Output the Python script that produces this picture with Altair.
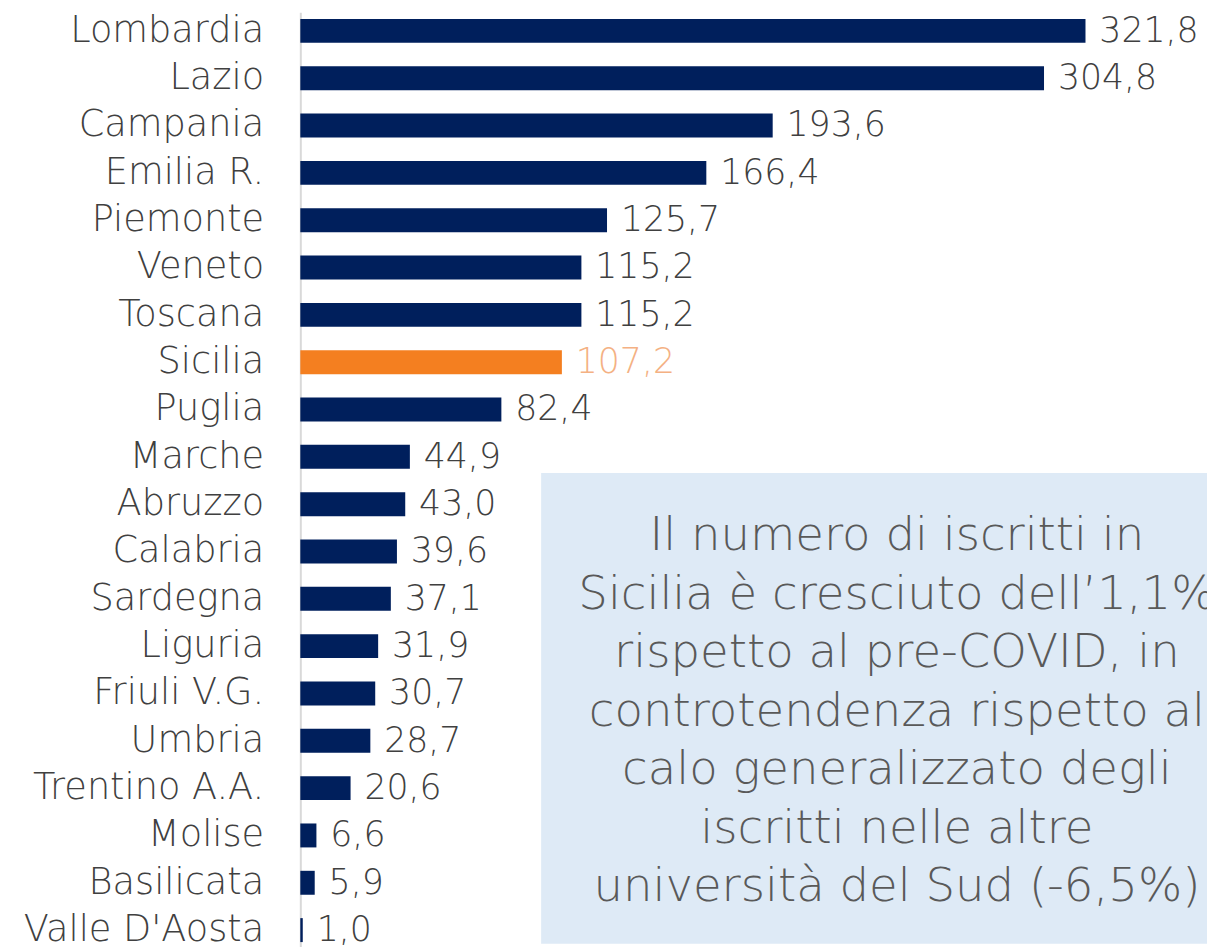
import altair as alt
import pandas as pd

regions = ["Lombardia", "Lazio", "Campania", "Emilia R.", "Piemonte", "Veneto",
           "Toscana", "Sicilia", "Puglia", "Marche", "Abruzzo", "Calabria",
           "Sardegna", "Liguria", "Friuli V.G.", "Umbria", "Trentino A.A.",
           "Molise", "Basilicata", "Valle D'Aosta"]
values = [321.8, 304.8, 193.6, 166.4, 125.7, 115.2, 115.2, 107.2, 82.4, 44.9,
          43.0, 39.6, 37.1, 31.9, 30.7, 28.7, 20.6, 6.6, 5.9, 1.0]
highlight = "Sicilia"
note_lines = ["Il numero di iscritti in",
              "Sicilia è cresciuto dell’1,1%",
              "rispetto al pre-COVID, in",
              "controtendenza rispetto al",
              "calo generalizzato degli",
              "iscritti nelle altre",
              "università del Sud (-6,5%)"]

df = pd.DataFrame({"regione": regions, "valore": values})
df["label"] = [f"{v:.1f}".replace(".", ",") for v in values]
df["hl"] = ["si" if r == highlight else "no" for r in regions]

FONT = "DejaVu Sans"
W, H = 915, 945
xscale = alt.Scale(domain=[0, 371.6], nice=False, zero=True)

y_enc = alt.Y("regione:N", sort=regions,
              scale=alt.Scale(paddingInner=0.494, paddingOuter=0.14),
              axis=alt.Axis(title=None, ticks=False, domainColor="#d9d9d9",
                            domainWidth=2, labelFont=FONT, labelFontSize=37,
                            labelFontWeight=200, labelColor="#404040",
                            labelPadding=37, labelLimit=400))

base = alt.Chart(df)

bars = base.mark_bar().encode(
    x=alt.X("valore:Q", scale=xscale, axis=None),
    y=y_enc,
    color=alt.Color("hl:N", scale=alt.Scale(domain=["no", "si"],
                                            range=["#001F5C", "#F47F20"]),
                    legend=None),
)

labels = base.mark_text(align="left", baseline="middle", dx=14, font=FONT,
                        fontSize=35, fontWeight=200).encode(
    x=alt.X("valore:Q", scale=xscale, axis=None),
    y=alt.Y("regione:N", sort=regions),
    text="label:N",
    color=alt.Color("hl:N", scale=alt.Scale(domain=["no", "si"],
                                            range=["#404040", "#F4B183"]),
                    legend=None),
)

note_df = pd.DataFrame({"x0": [98.7], "x1": [390.0]})
box = alt.Chart(note_df).mark_rect(color="#DEEAF6").encode(
    x=alt.X("x0:Q", scale=xscale, axis=None),
    x2="x1:Q",
    y=alt.value(465),
    y2=alt.value(940),
)

note = alt.Chart(pd.DataFrame({"xc": [244.5]})).mark_text(
    align="center", baseline="middle", font=FONT, fontSize=47,
    fontWeight=200, lineHeight=59, color="#595959",
    text=note_lines).encode(
    x=alt.X("xc:Q", scale=xscale, axis=None),
    y=alt.value(529),
)

chart = alt.layer(bars, labels, box, note).resolve_scale(color="independent").properties(
    width=W, height=H,
    autosize=alt.AutoSizeParams(type="none"),
    padding={"left": 295, "top": 0, "right": 0, "bottom": 0},
).configure_view(stroke=None)

chart.save("out.html", embed_options={"renderer": "svg", "actions": False})
